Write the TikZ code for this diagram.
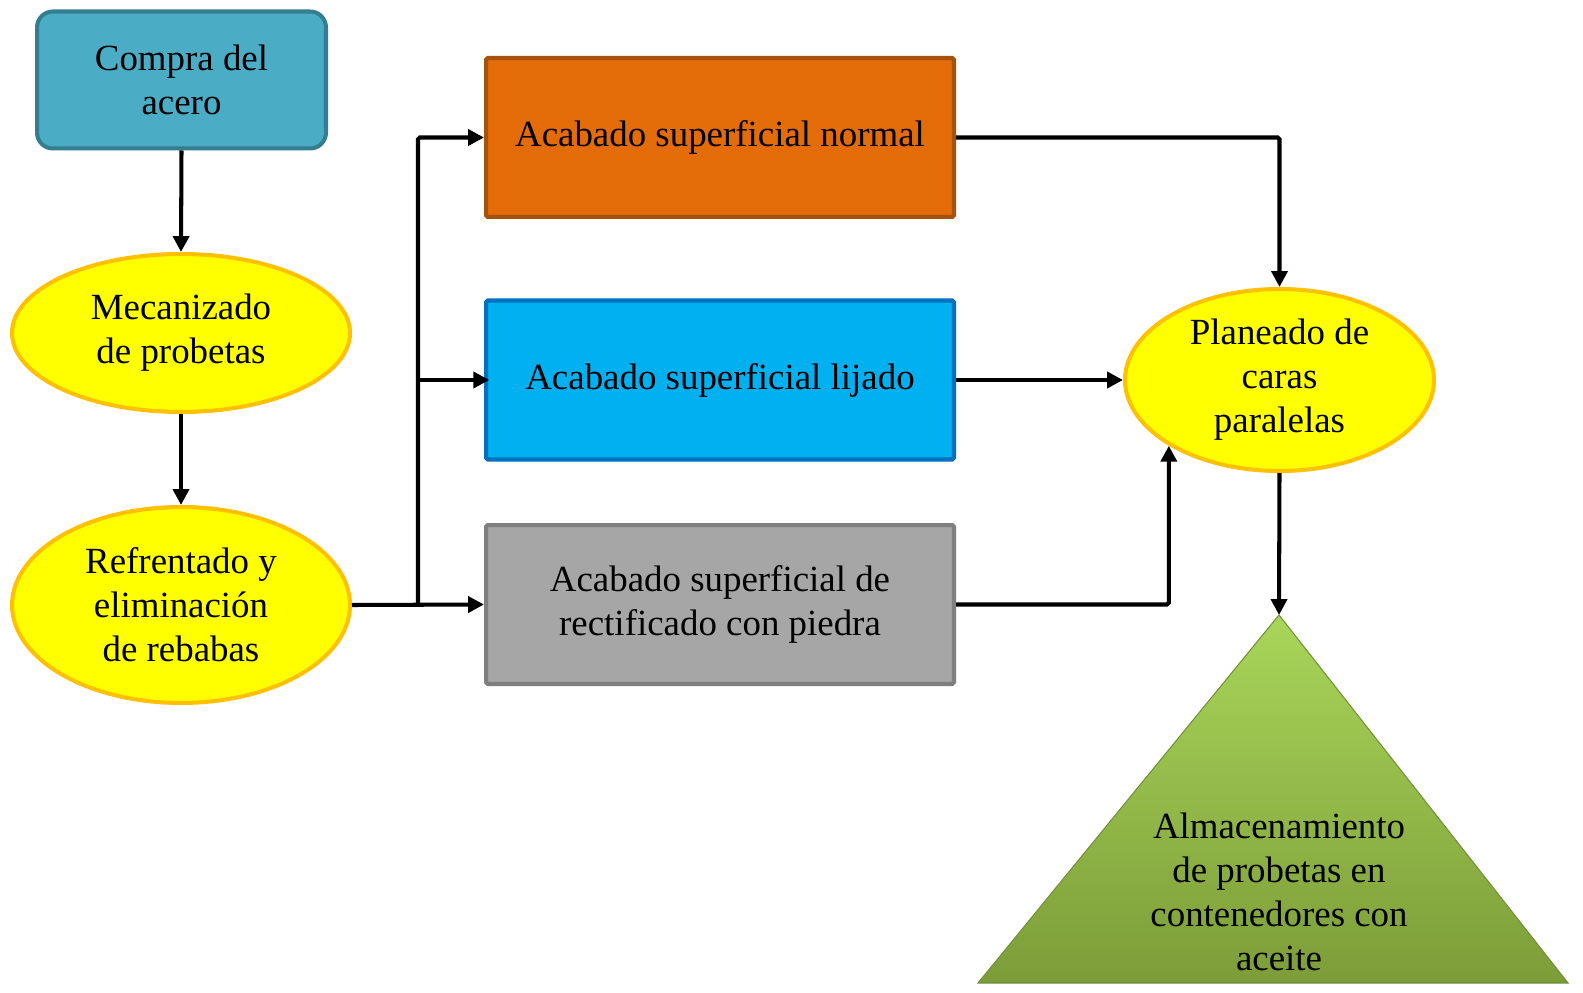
\documentclass[tikz,border=0pt]{standalone}
\usepackage{fontspec}
\setmainfont{Liberation Serif}
\usetikzlibrary{shapes.geometric,arrows.meta}
\definecolor{tealfill}{HTML}{4BACC6}
\definecolor{tealline}{HTML}{357D91}
\definecolor{yelfill}{HTML}{FFFF00}
\definecolor{yelline}{HTML}{FFC000}
\definecolor{orfill}{HTML}{E36C09}
\definecolor{orline}{HTML}{A5520C}
\definecolor{blfill}{HTML}{00B0F0}
\definecolor{blline}{HTML}{0070C0}
\definecolor{grfill}{HTML}{A6A6A6}
\definecolor{grline}{HTML}{7F7F7F}
\definecolor{gntop}{HTML}{A9D65A}
\definecolor{gnbot}{HTML}{7C9C38}
\definecolor{gnline}{HTML}{71913A}
\begin{document}
\begin{tikzpicture}[x=0.02cm,y=-0.02cm,
  txt/.style={font=\fontsize{21}{25}\selectfont,align=center,text=black},
  rbox/.style={txt,draw,line width=2.3pt,rounded corners=8pt,inner sep=0pt},
  sbox/.style={txt,draw,line width=2.3pt,rounded corners=1pt,minimum width=472*0.02cm-2.3pt,minimum height=163*0.02cm-2.3pt,inner sep=0pt},
  yell/.style={txt,ellipse,draw=yelline,fill=yelfill,line width=2.3pt,inner sep=0pt},
  arr/.style={line width=2.3pt,-{Triangle[length=9pt,width=9pt]}}
]
\path[use as bounding box,fill=white] (0,0) rectangle (1583,993);
% nodes
\node[rbox,draw=tealline,fill=tealfill,rounded corners=9pt,minimum width=293*0.02cm-2.3pt,minimum height=141*0.02cm-2.3pt] (compra) at (181.5,80) {Compra del\\acero};
\node[yell,minimum width=342*0.02cm-2.3pt,minimum height=162*0.02cm-2.3pt] (meca) at (181,333) {Mecanizado\\de probetas};
\node[yell,minimum width=342*0.02cm-2.3pt,minimum height=200*0.02cm-2.3pt] (refr) at (181,605) {Refrentado y\\eliminación\\de rebabas};
\node[sbox,draw=orline,fill=orfill] (norm) at (720,137.5) {Acabado superficial normal};
\node[sbox,draw=blline,fill=blfill] (lij) at (720,380) {Acabado superficial lijado};
\node[sbox,draw=grline,fill=grfill] (rect) at (720,604.5) {Acabado superficial de\\rectificado con piedra};
\node[yell,minimum width=313*0.02cm-2.3pt,minimum height=186*0.02cm-2.3pt] (plan) at (1279.5,380) {Planeado de\\caras\\paralelas};
% triangle
\coordinate (apex) at (1279,615);
\coordinate (bl) at (978,983);
\coordinate (brc) at (1568,983);
\shade[top color=gntop,bottom color=gnbot,draw=gnline,line width=0.6pt] (apex) -- (brc) -- (bl) -- cycle;
\node[txt] (alm) at (1279,892) {Almacenamiento\\de probetas en\\contenedores con\\aceite};
% connectors
\draw[arr] (compra.south) -- (meca.north);
\draw[arr] (meca.south) -- (refr.north);
\coordinate (br) at (418,604.5);
\draw[arr] (refr.east) -- (rect.west);
\draw[arr,rounded corners=1pt] (br) |- (norm.west);
\draw[arr] (br |- lij.west) -- ([xshift=3pt]lij.west);
\draw[arr,rounded corners=1pt] (norm.east) -| (plan.north);
\draw[arr] (lij.east) -- (plan.west);
\draw[arr,rounded corners=1pt] (rect.east) -| (plan.south west);
\draw[arr] (plan.south) -- (apex);
\end{tikzpicture}
\end{document}
